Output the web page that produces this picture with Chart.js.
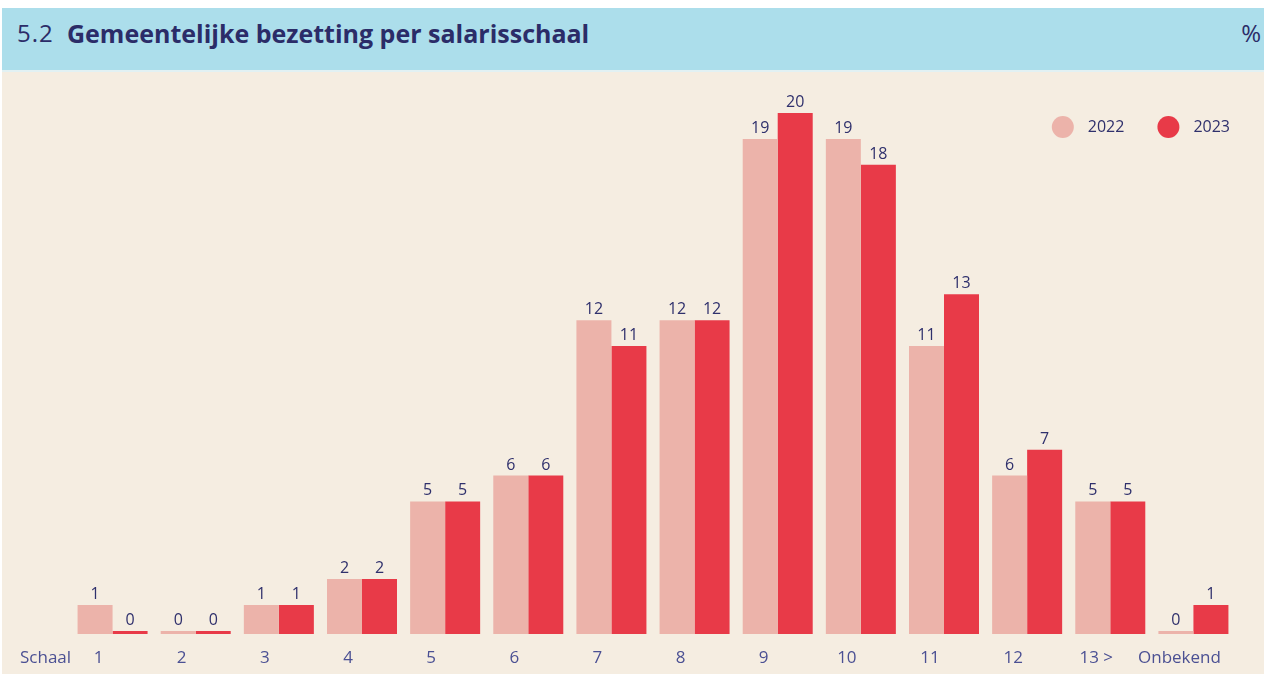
<!DOCTYPE html>
<html><head><meta charset="utf-8">
<script src="https://cdn.jsdelivr.net/npm/chart.js@4/dist/chart.umd.min.js"></script>
<style>
html,body{margin:0;padding:0;background:#fff;width:1264px;height:674px;overflow:hidden;font-family:'Open Sans',sans-serif;}
#hdr{position:absolute;left:2px;top:8px;width:1262px;height:62px;background:#acdeeb;color:#2b2c68;}
#hdr span{position:absolute;top:12px;line-height:26px;font-size:24px;white-space:nowrap;}
#num{left:15px;font-weight:400;letter-spacing:1px;}
#ttl{left:65px;font-weight:700;font-size:25px !important;}
#pct{right:3px;font-weight:400;}
#sep{position:absolute;left:2px;top:70px;width:1262px;height:2px;background:#e2f1f3;}
#wrap{position:absolute;left:2px;top:72px;width:1262px;height:602px;background:#f5ede1;}
canvas{display:block;}
</style>
</head><body>
<div id="hdr"><span id="num">5.2</span><span id="ttl">Gemeentelijke bezetting per salarisschaal</span><span id="pct">%</span></div>
<div id="sep"></div>
<div id="wrap"><canvas id="c" width="1262" height="602"></canvas></div>
<script>
const categories = ['1','2','3','4','5','6','7','8','9','10','11','12','13 >','Onbekend'];
const series2022 = [1,0,1,2,5,6,12,12,19,19,11,6,5,0];
const series2023 = [0,0,1,2,5,6,11,12,20,18,13,7,5,1];
const seriesLabels = ['2022','2023'];
const axisLabel = 'Schaal';

const C2022 = '#ecb3aa', C2023 = '#e83a48';
const TEXT = '#2f306c', TICK = '#4b5093';
const FONT = "'Open Sans', sans-serif";
const BAR_BASE = -0.12;

const valueLabels = {
  id:'valueLabels',
  afterDatasetsDraw(chart){
    const ctx = chart.ctx;
    ctx.save();
    ctx.font = '16px ' + FONT;
    ctx.fillStyle = TEXT;
    ctx.textAlign = 'center';
    ctx.textBaseline = 'alphabetic';
    chart.data.datasets.forEach((ds,i)=>{
      chart.getDatasetMeta(i).data.forEach((bar,j)=>{
        ctx.fillText(String(ds.data[j]), bar.x, bar.y - 6);
      });
    });
    ctx.restore();
  }
};

const extras = {
  id:'extras',
  afterDraw(chart){
    const ctx = chart.ctx, ca = chart.chartArea, xs = chart.scales.x;
    ctx.save();
    ctx.font = '17px ' + FONT;
    ctx.fillStyle = TICK;
    ctx.textAlign = 'left';
    ctx.textBaseline = 'top';
    ctx.fillText(axisLabel, 18, xs.top + 16);
    ctx.font = '16px ' + FONT;
    ctx.textBaseline = 'middle';
    const r = 11, gapText = 14, gapItem = 33;
    const items = chart.data.datasets.map(d=>({label:d.label, color:d.backgroundColor, w:ctx.measureText(d.label).width}));
    let total = 0;
    items.forEach((it,k)=>{ total += 2*r + gapText + it.w + (k < items.length-1 ? gapItem : 0); });
    let x = ca.right - 5 - total;
    const y = ca.top + 14;
    items.forEach(it=>{
      ctx.fillStyle = it.color;
      ctx.beginPath(); ctx.arc(x + r, y, r, 0, Math.PI*2); ctx.fill();
      ctx.fillStyle = TEXT;
      ctx.fillText(it.label, x + 2*r + gapText, y);
      x += 2*r + gapText + it.w + gapItem;
    });
    ctx.restore();
  }
};

new Chart(document.getElementById('c'), {
  type:'bar',
  data:{
    labels:categories,
    datasets:[
      {label:seriesLabels[0], data:series2022, backgroundColor:C2022, base:BAR_BASE},
      {label:seriesLabels[1], data:series2023, backgroundColor:C2023, base:BAR_BASE}
    ]
  },
  options:{
    responsive:false,
    devicePixelRatio:1,
    animation:false,
    layout:{padding:{left:69, right:29, top:41, bottom:0}},
    datasets:{bar:{barPercentage:1.0, categoryPercentage:0.842, borderWidth:0}},
    plugins:{legend:{display:false}, tooltip:{enabled:false}, title:{display:false}},
    scales:{
      x:{
        grid:{display:false, drawTicks:false},
        border:{display:false},
        ticks:{color:TICK, font:{family:FONT, size:17}, padding:14, labelOffset:-14, maxRotation:0, autoSkip:false},
        afterFit(s){ s.height = 40; }
      },
      y:{display:false, min:BAR_BASE, max:20}
    }
  },
  plugins:[valueLabels, extras]
});
</script>
</body></html>
